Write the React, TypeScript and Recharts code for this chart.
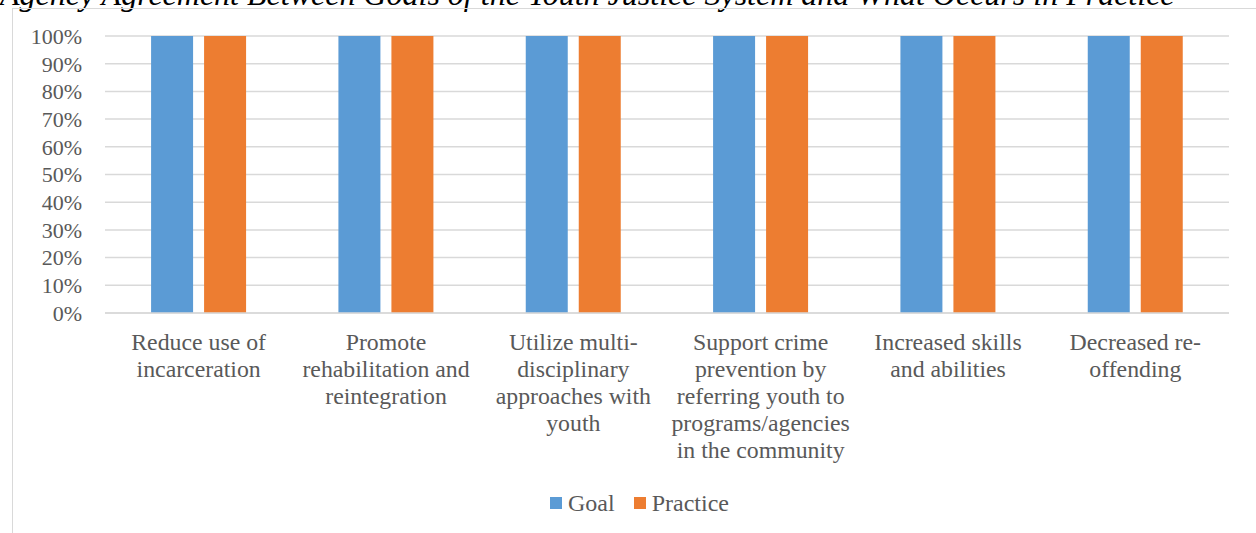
import React from "react";
import { BarChart, Bar, XAxis, YAxis, CartesianGrid, Legend } from "recharts";

const categories = [
  ["Reduce use of", "incarceration"],
  ["Promote", "rehabilitation and", "reintegration"],
  ["Utilize multi-", "disciplinary", "approaches with", "youth"],
  ["Support crime", "prevention by", "referring youth to", "programs/agencies", "in the community"],
  ["Increased skills", "and abilities"],
  ["Decreased re-", "offending"],
];
const goal = [1, 1, 1, 1, 1, 1];
const practice = [1, 1, 1, 1, 1, 1];
const yTicks = [0, 0.1, 0.2, 0.3, 0.4, 0.5, 0.6, 0.7, 0.8, 0.9, 1];

const data = categories.map((lines, i) => ({
  name: lines.join(" "),
  goal: goal[i],
  practice: practice[i],
}));

const FONT = '"Times New Roman", "Liberation Serif", serif';
const TEXT = "#595959";
const GRID = "#d9d9d9";

const CategoryTick = (props: any) => {
  const { x, y, index } = props;
  const lines = categories[index] || [];
  return (
    <text x={x} y={y + 29} textAnchor="middle" fill={TEXT} fontFamily={FONT} fontSize={23.8}>
      {lines.map((l, i) => (
        <tspan key={i} x={x} dy={i === 0 ? 0 : 27}>
          {l}
        </tspan>
      ))}
    </text>
  );
};

const LegendContent = () => (
  <div
    style={{
      display: "flex",
      justifyContent: "center",
      alignItems: "center",
      height: 30,
      marginLeft: 38,
      fontFamily: FONT,
      fontSize: 24,
      color: TEXT,
    }}
  >
    <span style={{ width: 12, height: 12, background: "#5B9BD5", marginRight: 6 }} />
    <span style={{ marginRight: 19 }}>Goal</span>
    <span style={{ width: 12, height: 12, background: "#ED7D31", marginRight: 6 }} />
    <span>Practice</span>
  </div>
);

export default function App() {
  return (
    <div style={{ position: "absolute", left: 0, top: 0, width: 1256, height: 533, overflow: "hidden", background: "#fff" }}>
      <svg width={1256} height={20} style={{ position: "absolute", left: 0, top: 0 }}>
        <text x={0} y={5} fontFamily={FONT} fontStyle="italic" fontSize={32} fill="#000">
          Agency Agreement Between Goals of the Youth Justice System and What Occurs in Practice
        </text>
      </svg>
      <div
        style={{
          position: "absolute",
          left: 12,
          top: 8,
          width: 1400,
          height: 600,
          borderLeft: `1px solid ${GRID}`,
          borderTop: `1px solid ${GRID}`,
        }}
      />
      <div style={{ position: "absolute", left: 0, top: 0 }}>
        <BarChart
          width={1256}
          height={533}
          data={data}
          margin={{ top: 36, right: 27, left: 12, bottom: 15 }}
          barGap={11}
          barCategoryGap="24.6%"
        >
          <CartesianGrid vertical={false} stroke={GRID} strokeWidth={1.5} />
          <YAxis
            width={93}
            domain={[0, 1]}
            ticks={yTicks}
            interval={0}
            tickFormatter={(v: number) => `${Math.round(v * 100)}%`}
            axisLine={false}
            tickLine={false}
            tickSize={0}
            tickMargin={23}
            tick={{ fill: TEXT, fontFamily: FONT, fontSize: 22 }}
          />
          <XAxis
            dataKey="name"
            height={175}
            interval={0}
            tickLine={false}
            axisLine={{ stroke: GRID, strokeWidth: 1.5 }}
            tick={<CategoryTick />}
          />
          <Legend verticalAlign="bottom" height={30} content={<LegendContent />} />
          <Bar dataKey="goal" name="Goal" fill="#5B9BD5" isAnimationActive={false} />
          <Bar dataKey="practice" name="Practice" fill="#ED7D31" isAnimationActive={false} />
        </BarChart>
      </div>
    </div>
  );
}
